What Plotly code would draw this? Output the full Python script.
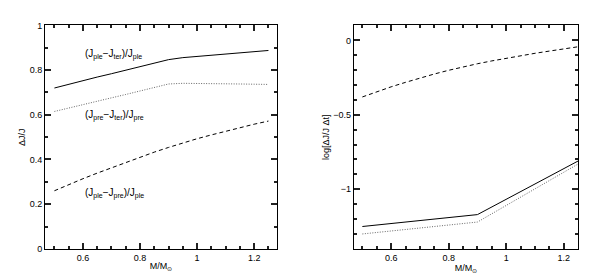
import plotly.graph_objects as go

mass = [0.5, 0.55, 0.6, 0.65, 0.7, 0.75, 0.8, 0.85, 0.9, 0.95, 1.0, 1.05, 1.1, 1.15, 1.2, 1.25]
ple_ter = [0.72, 0.737, 0.753, 0.769, 0.784, 0.799, 0.814, 0.83, 0.847, 0.856, 0.861, 0.866, 0.872, 0.877, 0.881, 0.888]
pre_ter = [0.615, 0.631, 0.646, 0.661, 0.676, 0.691, 0.706, 0.722, 0.738, 0.741, 0.741, 0.74, 0.739, 0.738, 0.737, 0.736]
ple_pre = [0.26, 0.288, 0.314, 0.339, 0.363, 0.387, 0.41, 0.433, 0.454, 0.474, 0.493, 0.51, 0.527, 0.543, 0.558, 0.572]

log_dashed = [-0.38, -0.345, -0.312, -0.282, -0.253, -0.226, -0.201, -0.178, -0.157, -0.138, -0.12, -0.103, -0.087, -0.072, -0.057, -0.043]
mass_kink = [0.5, 0.9, 1.25]
log_solid = [-1.25, -1.17, -0.81]
log_dotted = [-1.30, -1.22, -0.83]

x_ticks = [0.6, 0.8, 1, 1.2]
x_ticktext = ["0.6", "0.8", "1", "1.2"]
y1_ticks = [0, 0.2, 0.4, 0.6, 0.8, 1]
y1_ticktext = ["0", "0.2", "0.4", "0.6", "0.8", "1"]
y2_ticks = [-1, -0.5, 0]
y2_ticktext = ["−1", "−0.5", "0"]

FONT = dict(family="Liberation Sans, Arial, sans-serif", size=9, color="black")
DASH = "4px,3px"
DOT = "1px,1.5px"

fig = go.Figure()
fig.add_trace(go.Scatter(x=mass, y=ple_ter, mode="lines", line=dict(color="black", width=1, dash="solid"), xaxis="x", yaxis="y"))
fig.add_trace(go.Scatter(x=mass, y=pre_ter, mode="lines", line=dict(color="#666666", width=1, dash=DOT), xaxis="x", yaxis="y"))
fig.add_trace(go.Scatter(x=mass, y=ple_pre, mode="lines", line=dict(color="black", width=1, dash=DASH), xaxis="x", yaxis="y"))
fig.add_trace(go.Scatter(x=mass, y=log_dashed, mode="lines", line=dict(color="black", width=1, dash=DASH), xaxis="x2", yaxis="y2"))
fig.add_trace(go.Scatter(x=mass_kink, y=log_solid, mode="lines", line=dict(color="black", width=1, dash="solid"), xaxis="x2", yaxis="y2"))
fig.add_trace(go.Scatter(x=mass_kink, y=log_dotted, mode="lines", line=dict(color="#666666", width=1, dash=DOT), xaxis="x2", yaxis="y2"))

axis_common = dict(showline=True, linecolor="black", linewidth=1, mirror="allticks", ticks="inside",
                   ticklen=6, tickwidth=1.5, tickcolor="#222222", showgrid=False, zeroline=False, tickfont=FONT)
minor_x = dict(dtick=0.05, tick0=0, ticks="inside", ticklen=3, tickwidth=1.5, tickcolor="#222222", showgrid=False)
minor_y = dict(dtick=0.1, tick0=0, ticks="inside", ticklen=3, tickwidth=1.5, tickcolor="#222222", showgrid=False)

fig.update_layout(
    width=589, height=275, showlegend=False,
    paper_bgcolor="white", plot_bgcolor="white",
    margin=dict(l=0, r=0, t=0, b=0),
    font=FONT,
    xaxis=dict(domain=[0.0628, 0.4567], range=[0.467, 1.28], tickvals=x_ticks, ticktext=x_ticktext,
               minor=minor_x, title=dict(text="M/M<sub>⊙</sub>", font=FONT, standoff=1), anchor="y", **axis_common),
    yaxis=dict(domain=[0.11, 0.953], range=[0, 1], tickvals=y1_ticks, ticktext=y1_ticktext,
               minor=minor_y, title=dict(text="ΔJ/J", font=FONT, standoff=2), anchor="x", **axis_common),
    xaxis2=dict(domain=[0.587, 0.968], range=[0.47, 1.25], tickvals=x_ticks, ticktext=x_ticktext,
                minor=minor_x, title=dict(text="M/M<sub>⊙</sub>", font=FONT, standoff=1), anchor="y2", **axis_common),
    yaxis2=dict(domain=[0.11, 0.953], range=[-1.4, 0.1], tickvals=y2_ticks, ticktext=y2_ticktext,
                minor=minor_y, title=dict(text="log[ΔJ/J Δt]", font=FONT, standoff=2), anchor="x2", **axis_common),
    annotations=[
        dict(x=0.6, y=0.87, xref="x", yref="y", text="(J<sub>ple</sub>−J<sub>ter</sub>)/J<sub>ple</sub>",
             showarrow=False, xanchor="left", yanchor="middle", font=dict(FONT, size=10)),
        dict(x=0.6, y=0.595, xref="x", yref="y", text="(J<sub>pre</sub>−J<sub>ter</sub>)/J<sub>pre</sub>",
             showarrow=False, xanchor="left", yanchor="middle", font=dict(FONT, size=10)),
        dict(x=0.6, y=0.25, xref="x", yref="y", text="(J<sub>ple</sub>−J<sub>pre</sub>)/J<sub>ple</sub>",
             showarrow=False, xanchor="left", yanchor="middle", font=dict(FONT, size=10)),
    ],
)

fig.write_html("out.html")
